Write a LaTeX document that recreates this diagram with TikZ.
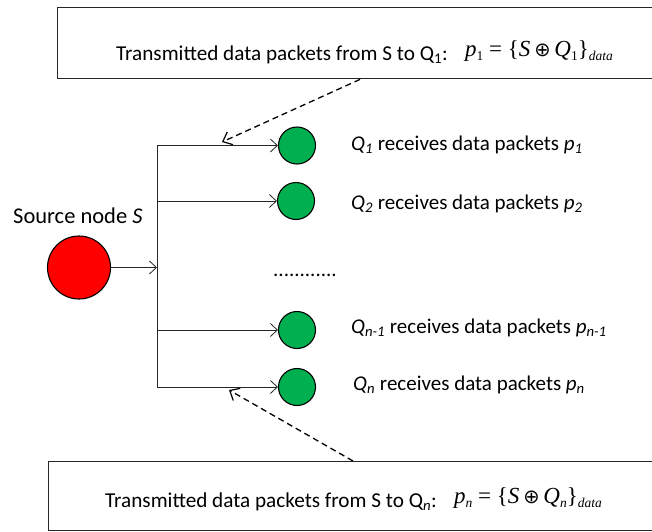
\documentclass[tikz,border=0pt]{standalone}
\usepackage{fontspec}
\setmainfont{Carlito}
\newfontfamily\tms{Liberation Serif}
\newfontfamily\symf{DejaVu Sans}
\usetikzlibrary{arrows.meta}
\definecolor{qgreen}{HTML}{00B050}
\definecolor{sred}{HTML}{FF0000}
\newcommand{\lo}[1]{\raisebox{-4pt}{\fontsize{13.5}{15}\selectfont #1}}
\newcommand{\pkteq}[2]{{\tms\fontsize{23}{26}\selectfont\itshape p\lo{#1}\upshape\ =\ \{\itshape S\,{\symf\fontsize{19.5}{22}\selectfont ⊕}\,Q\lo{#2}\upshape\}\lo{\itshape data}}}
\begin{document}
\begin{tikzpicture}[x=1pt,y=-1pt,
  txt/.style={font=\fontsize{21.2}{25}\selectfont, inner sep=0pt, anchor=base west},
  lbl/.style={font=\fontsize{21}{25}\selectfont, inner sep=0pt, anchor=base west},
  frm/.style={inner sep=0pt, anchor=base west},
  infobox/.style={draw=black!85, line width=1.4pt},
  qnode/.style={circle, draw=black, line width=1.1pt, fill=qgreen, minimum size=37pt, inner sep=0pt},
  snode/.style={circle, draw=black, line width=1.1pt, fill=sred, minimum size=63pt, inner sep=0pt},
  link/.style={draw=black!85, line width=0.8pt},
  linkarrow/.style={link, -{Straight Barb[length=7pt,width=13pt,line width=0.8pt]}},
  dasharrow/.style={draw=black, line width=1.3pt, dash pattern=on 6pt off 4pt, -{Straight Barb[length=8pt,width=14pt,line width=1.2pt]}}
]
\useasboundingbox (0,0) rectangle (652,531);
\clip (0,0) rectangle (652,531);

% boxes
\node[infobox, inner sep=0pt, minimum width=613pt, minimum height=71pt, anchor=north west] (topbox) at (57,7) {};
\node[infobox, inner sep=0pt, minimum width=624pt, minimum height=69pt, anchor=north west] (botbox) at (48,461) {};

\node[txt] (toptxt) at (116,60) {Transmitted data packets from S to Q\textsubscript{1}:};
\node[frm] (topfrm) at (465,56) {\pkteq{\upshape 1}{\upshape 1}};
\node[txt] (bottxt) at (105,507) {Transmitted data packets from S to Q\textsubscript{\itshape n}:};
\node[frm] (botfrm) at (454,503) {\pkteq{\itshape n}{\itshape n}};

% source
\node[snode] (S) at (79,267.5) {};
\node[lbl, font=\fontsize{22.5}{26}\selectfont] (Slabel) at (13,223) {Source node \textit{S}};

% receivers
\node[qnode] (Q1) at (297,145.5) {};
\node[qnode] (Q2) at (296,201) {};
\node[qnode] (Qm) at (297,330) {};
\node[qnode] (Qn) at (297,387) {};

\node[lbl] (L1) at (351,150) {\textit{Q\textsubscript{1}} receives data packets \textit{p\textsubscript{1}}};
\node[lbl] (L2) at (351,209) {\textit{Q\textsubscript{2}} receives data packets \textit{p\textsubscript{2}}};
\node[lbl] (Lm) at (351,333) {\textit{Q\textsubscript{n-1}} receives data packets \textit{p\textsubscript{n-1}}};
\node[lbl] (Ln) at (353,390) {\textit{Q\textsubscript{n}} receives data packets \textit{p\textsubscript{n}}};

\node[lbl] (dots) at (273,276) {............};

% bus
\coordinate (b1) at (157,145.5);
\coordinate (b2) at (157,201);
\coordinate (bs) at (157,267.5);
\coordinate (bm) at (157,330);
\coordinate (bn) at (157,387);

\draw[link] (b1) -- (bn);
\draw[linkarrow] (S.east) -- (bs);
\draw[linkarrow] (b1) -- (Q1.west);
\draw[linkarrow] (b2) -- (Q2.west);
\draw[linkarrow] (bm) -- (Qm.west);
\draw[linkarrow] (bn) -- (Qn.west);

% dashed pointers
\coordinate (t1) at (222,142);
\coordinate (tn) at (229,390);
\draw[dasharrow] (topbox.south west) ++(303,0) coordinate (d1) -- (t1);
\draw[dasharrow] (botbox.north west) ++(305,0) coordinate (dn) -- (tn);
\end{tikzpicture}
\end{document}
